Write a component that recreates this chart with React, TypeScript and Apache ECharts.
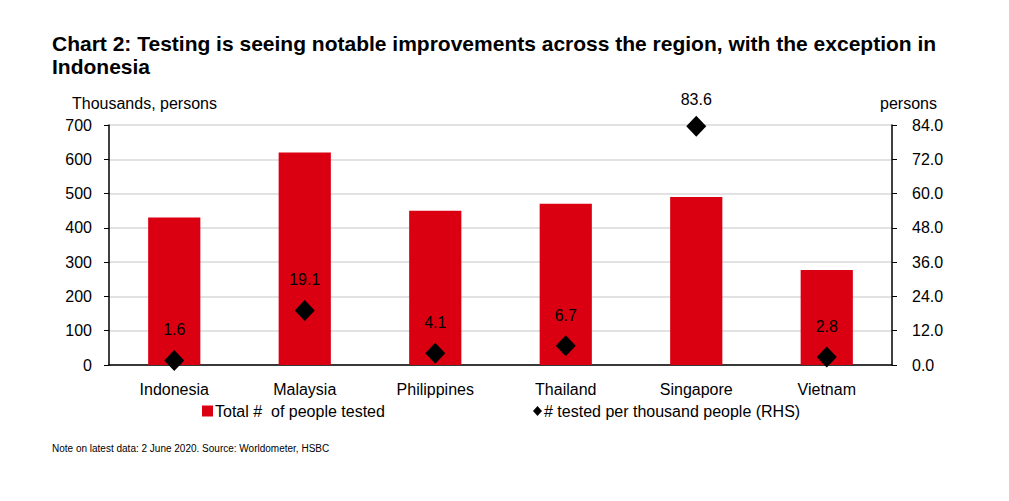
import React, { useEffect, useRef } from "react";
import * as echarts from "echarts";

const categories = ["Indonesia", "Malaysia", "Philippines", "Thailand", "Singapore", "Vietnam"];
const totalTested = [430, 620, 450, 470, 490, 277];
const perThousand = [1.6, 19.1, 4.1, 6.7, 83.6, 2.8];
const barName = "Total #  of people tested";
const scatterName = "# tested per thousand people (RHS)";
const titleText = "Chart 2: Testing is seeing notable improvements across the region, with the exception in\nIndonesia";
const noteText = "Note on latest data: 2 June 2020. Source: Worldometer, HSBC";

const FONT = "'Liberation Sans', Arial, sans-serif";

export default function App() {
  const ref = useRef<HTMLDivElement>(null);
  useEffect(() => {
    if (!ref.current) return;
    const chart = echarts.init(ref.current, null, { renderer: "svg" });
    chart.setOption({
      animation: false,
      backgroundColor: "#fff",
      title: [
        {
          text: titleText,
          left: 47,
          top: 27,
          textStyle: { fontFamily: FONT, fontWeight: "bold", fontSize: 21, color: "#000", lineHeight: 23 },
        },
        {
          text: noteText,
          left: 47,
          top: 438,
          textStyle: { fontFamily: FONT, fontWeight: "normal", fontSize: 10, color: "#000" },
        },
      ],
      legend: [
        {
          data: [{ name: barName, icon: "rect" }],
          left: 197,
          top: 398,
          itemWidth: 11,
          itemHeight: 11,
          itemGap: 4,
          textStyle: { fontFamily: FONT, fontSize: 16, color: "#000", padding: [0, 0, 0, -3] },
        },
        {
          data: [{ name: scatterName, icon: "diamond" }],
          left: 528,
          top: 398,
          itemWidth: 9,
          itemHeight: 10,
          textStyle: { fontFamily: FONT, fontSize: 16, color: "#000", padding: [0, 0, 0, -3] },
        },
      ],
      grid: { left: 109, right: 117, top: 125, bottom: 136, containLabel: false },
      xAxis: {
        type: "category",
        data: categories,
        axisLine: { lineStyle: { color: "#000", width: 1.5 } },
        axisTick: { show: false },
        axisLabel: { fontFamily: FONT, fontSize: 16, color: "#000", margin: 16 },
      },
      yAxis: [
        {
          type: "value",
          min: 0,
          max: 700,
          interval: 100,
          name: "Thousands, persons",
          nameLocation: "end",
          nameGap: 14,
          nameTextStyle: { fontFamily: FONT, fontSize: 16, color: "#000", align: "left", padding: [0, 0, 0, -37] },
          axisLine: { show: true, lineStyle: { color: "#000", width: 1.5 } },
          axisTick: { show: true, length: 5, lineStyle: { color: "#000" } },
          axisLabel: { fontFamily: FONT, fontSize: 16, color: "#000", margin: 17 },
          splitLine: { lineStyle: { color: "#d9d9d9", width: 1.5 } },
        },
        {
          type: "value",
          min: 0,
          max: 84,
          interval: 12,
          name: "persons",
          nameLocation: "end",
          nameGap: 14,
          nameTextStyle: { fontFamily: FONT, fontSize: 16, color: "#000", align: "left", padding: [0, 0, 0, -12] },
          axisLine: { show: true, lineStyle: { color: "#000", width: 1.5 } },
          axisTick: { show: true, length: 5, lineStyle: { color: "#000" } },
          axisLabel: { fontFamily: FONT, fontSize: 16, color: "#000", margin: 20, formatter: (v: number) => v.toFixed(1) },
          splitLine: { show: false },
        },
      ],
      series: [
        {
          name: barName,
          type: "bar",
          data: totalTested,
          yAxisIndex: 0,
          barWidth: "40%",
          itemStyle: { color: "#db0011" },
        },
        {
          name: scatterName,
          type: "scatter",
          data: perThousand.map((v, i) => (i === 4 ? { value: v, label: { distance: 8 } } : v)),
          yAxisIndex: 1,
          symbol: "diamond",
          symbolSize: [20, 21],
          itemStyle: { color: "#000", opacity: 1 },
          label: {
            show: true,
            position: "top",
            distance: 12,
            fontFamily: FONT,
            fontSize: 16,
            color: "#000",
            formatter: (p: any) => Number(p.value).toFixed(1),
          },
          z: 5,
        },
      ],
    });
    return () => chart.dispose();
  }, []);
  return <div ref={ref} style={{ width: 1009, height: 501, marginLeft: -8, marginTop: -8 }} />;
}
